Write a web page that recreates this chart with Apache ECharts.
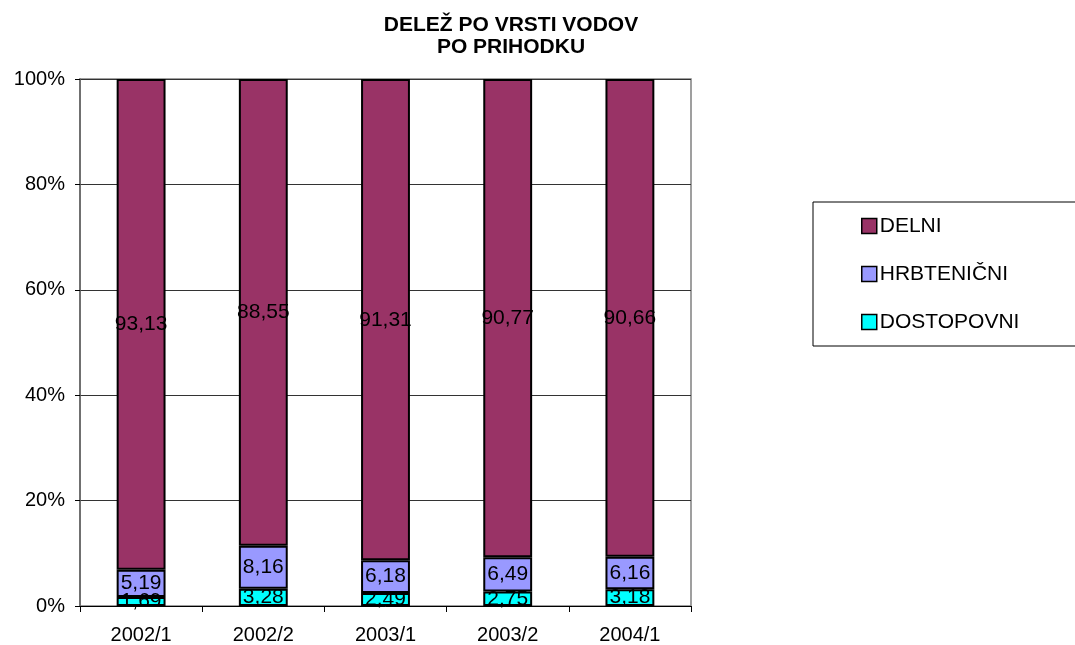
<!DOCTYPE html>
<html><head><meta charset="utf-8">
<script src="https://cdn.jsdelivr.net/npm/echarts@6/dist/echarts.min.js"></script>
<style>html,body{margin:0;padding:0;background:#fff}#c{width:1075px;height:645px}</style>
</head><body><div id="c"></div>
<script>
const categories = ['2002/1','2002/2','2003/1','2003/2','2004/1'];
const dostopovni = [1.69, 3.28, 2.49, 2.75, 3.18];
const hrbtenicni = [5.19, 8.16, 6.18, 6.49, 6.16];
const delni = [93.13, 88.55, 91.31, 90.77, 90.66];
const yTicks = [0, 20, 40, 60, 80, 100];

const font = 'Liberation Sans, Arial, sans-serif';
const fmt = p => p.value.toFixed(2).replace('.', ',');
function ser(name, data, color) {
  return {
    name, type: 'bar', stack: 'a', data, barWidth: '40%',
    itemStyle: { color, borderColor: '#000', borderWidth: 2 },
    label: { show: true, position: 'inside', formatter: fmt, color: '#000', fontFamily: font, fontSize: 21 }
  };
}
const chart = echarts.init(document.getElementById('c'));
chart.setOption({
  animation: false,
  title: {
    text: 'DELEŽ PO VRSTI VODOV\nPO PRIHODKU',
    left: 506, top: 9, textAlign: 'center',
    textStyle: { fontFamily: font, fontSize: 21, fontWeight: 'bold', color: '#000', lineHeight: 22 }
  },
  legend: {
    orient: 'vertical', left: 813, top: 202,
    padding: [12, 100, 12, 48],
    borderColor: '#000', borderWidth: 1,
    itemWidth: 15, itemHeight: 15, itemGap: 24,
    icon: 'rect',
    data: ['DELNI', 'HRBTENIČNI', 'DOSTOPOVNI'],
    textStyle: { fontFamily: font, fontSize: 21, color: '#000', lineHeight: 24, padding: [0,0,0,-2] },
    itemStyle: { borderColor: '#000', borderWidth: 1.5 }
  },
  grid: { left: 80, right: 384, top: 79, bottom: 39, show: true, borderColor: '#808080', borderWidth: 1.5, backgroundColor: 'transparent' },
  xAxis: {
    type: 'category', data: categories,
    axisLine: { lineStyle: { color: '#000', width: 1 } },
    axisTick: { show: true, alignWithLabel: false, length: 6, lineStyle: { color: '#000' } },
    axisLabel: { fontFamily: font, fontSize: 20, color: '#000', margin: 19 }
  },
  yAxis: {
    type: 'value', min: 0, max: 100, interval: 20,
    axisLine: { show: true, lineStyle: { color: '#606060', width: 1.5 } },
    axisTick: { show: true, length: 5, lineStyle: { color: '#000' } },
    axisLabel: { fontFamily: font, fontSize: 20, color: '#000', margin: 15,
      formatter: v => yTicks.includes(v) ? v + '%' : '' },
    splitLine: { lineStyle: { color: '#333333', width: 1 } }
  },
  series: [
    ser('DOSTOPOVNI', dostopovni, '#00FFFF'),
    ser('HRBTENIČNI', hrbtenicni, '#9999FF'),
    ser('DELNI', delni, '#993366')
  ]
});
</script></body></html>
